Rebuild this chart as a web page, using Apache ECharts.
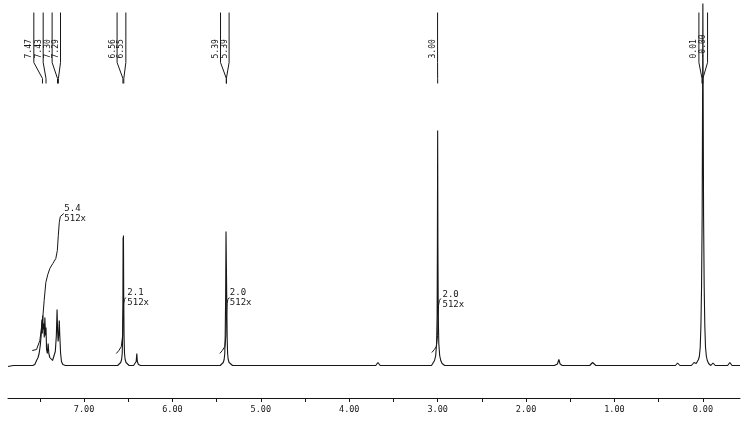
<!DOCTYPE html>
<html><head><meta charset="utf-8">
<script src="https://cdn.jsdelivr.net/npm/echarts@6/dist/echarts.min.js"></script>
<style>html,body{margin:0;padding:0;background:#fff}#c{width:744px;height:430px}</style>
</head><body><div id="c"></div>
<script>
// 1H NMR spectrum (chemical shift in ppm, intensity in arbitrary units)
const specPpm = [7.86,7.80,7.70,7.62,7.58,7.557,7.537,7.52,7.508,7.495,7.485,7.477,7.472,7.467,7.462,7.456,7.45,7.443,7.436,7.43,7.424,7.415,7.406,7.398,7.387,7.37,7.356,7.34,7.325,7.313,7.305,7.299,7.293,7.287,7.28,7.274,7.265,7.255,7.24,7.21,7.0,6.80,6.62,6.60,6.585,6.575,6.568,6.563,6.56,6.558,6.556,6.554,6.551,6.547,6.542,6.535,6.525,6.51,6.49,6.44,6.42,6.41,6.403,6.397,6.385,6.36,6.0,5.7,5.46,5.44,5.425,5.415,5.408,5.403,5.398,5.394,5.390,5.386,5.381,5.376,5.369,5.359,5.345,5.32,4.8,4.3,3.70,3.676,3.65,3.3,3.07,3.05,3.035,3.022,3.012,3.006,3.003,3.000,2.997,2.993,2.987,2.977,2.965,2.95,2.92,2.5,2.0,1.68,1.645,1.629,1.615,1.59,1.28,1.26,1.248,1.235,1.21,0.8,0.31,0.286,0.26,0.13,0.11,0.10,0.09,0.075,0.06,0.05,0.04,0.03,0.022,0.015,0.008,0.004,0.0,-0.004,-0.008,-0.015,-0.022,-0.03,-0.04,-0.05,-0.065,-0.09,-0.115,-0.14,-0.28,-0.305,-0.33,-0.42];
const specInt = [-1,0,0,0,0,1,5,8,12,20,30,46,32,50,36,42,28,48,30,38,16,12,22,12,8,6,5,7,14,30,56,35,24,30,45,30,12,4,1,0,0,0,0,1,3,6,12,30,70,128,110,130,70,28,12,6,3,1,0,0,1,4,12,4,1,0,0,0,0,1,3,6,12,30,70,134,132,70,28,12,6,3,1,0,0,0,0,3,0,0,0,2,5,10,22,50,120,235,120,50,22,10,5,2,0,0,0,0,1.5,6,1.5,0,0,1,3,1,0,0,0,2.5,0,0,1,3,1,2,4,6,9,18,40,78,150,250,362,250,150,78,40,18,9,5,2,0,2.5,0,0,3,0,0];

// integral traces
const integAromPpm = [7.586,7.537,7.500,7.469,7.451,7.432,7.410,7.387,7.353,7.319,7.302,7.291,7.280,7.268,7.251,7.229];
const integAromVal = [15,16,25,45,65,83,91,97,102,107,115,130,143,149,151,152];
const integA655Ppm = [6.635,6.606,6.578,6.563,6.557,6.552,6.544,6.527];
const integA655Val = [12,15,19,30,50,62,66,68];
const integA539Ppm = [5.464,5.436,5.407,5.394,5.388,5.382,5.373,5.356];
const integA539Val = [12,15,19,30,50,62,66,68];
const integA300Ppm = [3.066,3.037,3.015,3.001,2.995,2.990,2.981,2.964];
const integA300Val = [13,16,19,30,50,60,65,67];

// integral labels
const integLabelText = ['5.4\n512x','2.1\n512x','2.0\n512x','2.0\n512x'];
const integLabelPpm = [7.223,6.51,5.351,2.945];
const integLabelVal = [152,68,68,66];

// peak-pick labels
const peakLabelText = ['7.47','7.43','7.30','7.29','6.56','6.55','5.39','5.39','3.00','0.01','-0.00'];
const peakPpm       = [7.47,7.43,7.30,7.29,6.56,6.55,5.39,5.39,3.00,0.01,0.00];
const peakLinePpm   = [7.568,7.462,7.361,7.266,6.626,6.527,5.456,5.359,3.001,0.045,-0.053];

// axis ticks
const tickValues = [0,0.5,1,1.5,2,2.5,3,3.5,4,4.5,5,5.5,6,6.5,7,7.5];
const labelValues = [0,1,2,3,4,5,6,7];

const INK = '#161616';
const MONO = '"DejaVu Sans Mono", monospace';

function zip(a,b){return a.map((v,i)=>[v,b[i]]);}
function integSeries(p,v){
  return {type:'line', data:zip(p,v), showSymbol:false, symbol:'none', silent:true,
    lineStyle:{color:INK,width:1}, animation:false, z:3};
}

const chart = echarts.init(document.getElementById('c'), null, {renderer:'canvas'});
chart.setOption({
  animation:false,
  backgroundColor:'#fff',
  grid:{left:8,right:4,top:0,bottom:32},
  xAxis:{type:'value', min:-0.42, max:7.86, inverse:true,
    axisLine:{onZero:false, lineStyle:{color:INK,width:1}},
    axisTick:{customValues:tickValues, length:4, lineStyle:{color:INK}},
    axisLabel:{customValues:labelValues, formatter:v=>Number(v).toFixed(2), color:INK,
      fontFamily:'DejaVu Sans Mono', fontSize:8.5, margin:7},
    splitLine:{show:false}},
  yAxis:{type:'value', min:-32.5, max:365.5, show:false, splitLine:{show:false}},
  series:[
    {type:'line', data:zip(specPpm,specInt), showSymbol:false, symbol:'none', sampling:null,
     lineStyle:{color:INK,width:1.1}, silent:true, z:4, clip:true},
    integSeries(integAromPpm,integAromVal),
    integSeries(integA655Ppm,integA655Val),
    integSeries(integA539Ppm,integA539Val),
    integSeries(integA300Ppm,integA300Val),
    {type:'custom', coordinateSystem:'cartesian2d', silent:true, clip:false,
     data:zip(integLabelPpm,integLabelVal),
     renderItem:function(params,api){
       const p = api.coord([api.value(0),api.value(1)]);
       return {type:'text', x:p[0], y:p[1], style:{text:integLabelText[params.dataIndex],
         font:'9px '+MONO, fill:INK, align:'left', verticalAlign:'middle', lineHeight:10}};
     }},
    {type:'custom', coordinateSystem:'cartesian2d', silent:true, clip:false,
     data:zip(peakLinePpm,peakPpm),
     renderItem:function(params,api){
       const lp = api.value(0), pp = api.value(1);
       const p1 = api.coord([lp,353]), p2 = api.coord([lp,303]);
       const p3 = api.coord([pp,287]), p4 = api.coord([pp,282]);
       const t = api.coord([lp,307]);
       return {type:'group', children:[
         {type:'polyline', shape:{points:[p1,p2,p3,p4]}, style:{stroke:INK,lineWidth:1,fill:null}},
         {type:'text', x:t[0]-0.5, y:t[1], rotation:Math.PI/2,
          style:{text:peakLabelText[params.dataIndex], font:'8px '+MONO, fill:INK,
            align:'left', verticalAlign:'bottom'}}
       ]};
     }}
  ]
});
</script></body></html>
